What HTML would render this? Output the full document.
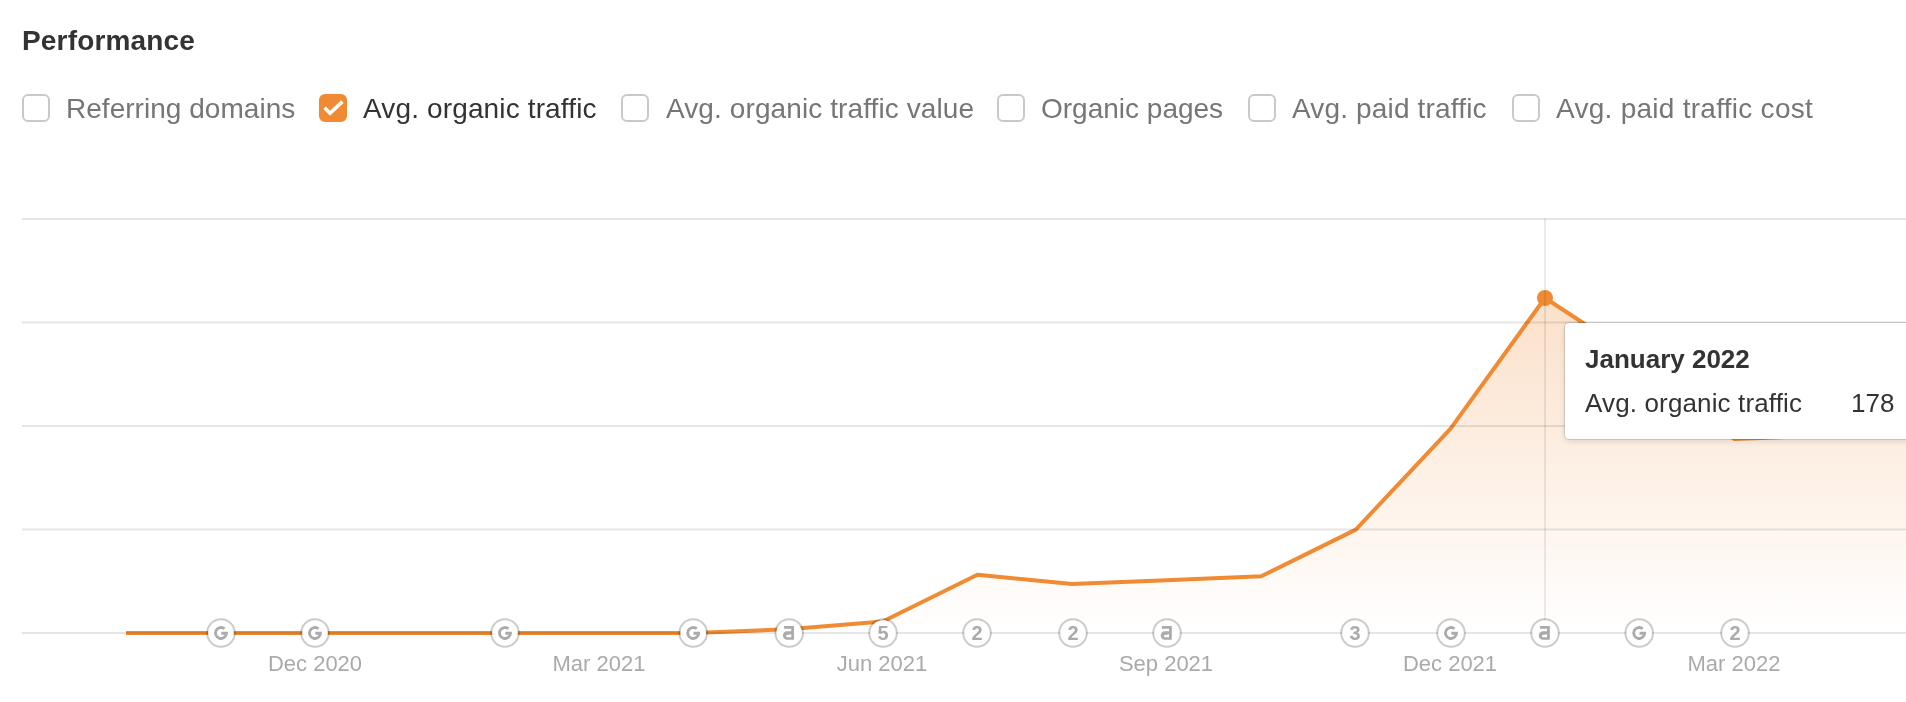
<!DOCTYPE html>
<html>
<head>
<meta charset="utf-8">
<title>Performance</title>
<style>
  html, body { margin: 0; padding: 0; background: #ffffff; }
  body {
    width: 1906px; height: 702px; position: relative; overflow: hidden;
    font-family: "Liberation Sans", sans-serif;
    -webkit-font-smoothing: antialiased;
  }
  .abs { position: absolute; white-space: nowrap; }
  #title, .lbl, .xl, #tip { will-change: transform; }
  #title { letter-spacing: 0.17px; left: 22.2px; top: 25px; font-size: 28px; line-height: 32px; font-weight: bold; color: #333333; }
  .cb { position: absolute; top: 94px; width: 24px; height: 24px; border: 2px solid #c9c9c9; border-radius: 6px; background: #fff; }
  .cb.on { border-color: #f08a33; background: #f08a33; }
  .lbl { position: absolute; top: 93px; font-size: 28px; line-height: 32px; color: #767676; white-space: nowrap; }
  .lbl.on { color: #333333; }
  .xl { position: absolute; top: 651px; width: 200px; margin-left: -100px; text-align: center; font-size: 22px; line-height: 26px; color: #aaaaaa; white-space: nowrap; }
  #tip { position: absolute; left: 1565px; top: 323px; width: 400px; height: 116px; background: #fff; border-radius: 4px;
         box-shadow: 0 0 0 1px rgba(0,0,0,0.085), 0 0 2px rgba(0,0,0,0.12), 0 2px 6px rgba(0,0,0,0.13); }
  #tip .h { position: absolute; left: 20px; top: 21px; font-size: 26px; line-height: 30px; font-weight: bold; color: #333333; white-space: nowrap; }
  #tip .k { letter-spacing:0.14px; position: absolute; left: 20px; top: 65px; font-size: 26px; line-height: 30px; color: #333333; white-space: nowrap; }
  #tip .v { position: absolute; left: 286px; top: 65px; font-size: 26px; line-height: 30px; color: #333333; white-space: nowrap; }
</style>
</head>
<body>

<div id="title" class="abs">Performance</div>

<!-- checkbox row -->
<div class="cb" style="left:22px"></div>
<div class="lbl" id="l1" style="left:66px;letter-spacing:0.03px">Referring domains</div>

<div class="cb on" style="left:319px"></div>
<svg class="abs" style="left:319px;top:94px" width="28" height="28" viewBox="0 0 28 28">
  <path d="M5.6 13.8 L11 19.2 L23.4 7.6" fill="none" stroke="#ffffff" stroke-width="3.6"/>
</svg>
<div class="lbl on" id="l2" style="left:363px;letter-spacing:0.14px">Avg. organic traffic</div>

<div class="cb" style="left:621px"></div>
<div class="lbl" id="l3" style="left:665.5px;letter-spacing:0.1px">Avg. organic traffic value</div>

<div class="cb" style="left:997px"></div>
<div class="lbl" id="l4" style="left:1041px">Organic pages</div>

<div class="cb" style="left:1248px"></div>
<div class="lbl" id="l5" style="left:1292px;letter-spacing:0.16px">Avg. paid traffic</div>

<div class="cb" style="left:1512px"></div>
<div class="lbl" id="l6" style="left:1556px;letter-spacing:0.27px">Avg. paid traffic cost</div>

<!-- chart -->
<svg class="abs" id="chart" style="left:0;top:0" width="1906" height="702" viewBox="0 0 1906 702">
  <defs>
    <linearGradient id="fillg" gradientUnits="userSpaceOnUse" x1="0" y1="298" x2="0" y2="633">
      <stop offset="0" stop-color="#f08a33" stop-opacity="0.26"/>
      <stop offset="1" stop-color="#f08a33" stop-opacity="0"/>
    </linearGradient>
    <g id="mk">
      <circle cx="0" cy="0" r="12.9" fill="#ffffff"/><circle cx="0" cy="0" r="13.8" fill="none" stroke="rgba(0,0,0,0.2)" stroke-width="2"/>
    </g>
    <g id="icG">
      <path d="M3.54 -4.21 A5.5 5.5 0 1 0 5.5 0.25 H0.3" fill="none" stroke="#ababab" stroke-width="2.8"/>
    </g>
    <g id="icA">
      <path fill-rule="evenodd" fill="#ababab" d="M-5.1 -6.9 H4.8 V6.8 H-2.2 A4.1 4.3 0 0 1 -2.2 -1.8 H2 V-4.2 H-5.1 Z M2 1.3 L-2 1.9 A1.15 1.15 0 0 0 -2 4.2 H2 Z"/>
    </g>
  </defs>


  <!-- area fill -->
  <path fill="url(#fillg)" d="M126.0 633 L220.6 633 L315.2 633 L409.8 633 L504.4 633 L599.0 633 L693.6 633 L788.2 629.2 L882.8 621.5 L977.4 574.7 L1072.0 584 L1166.6 580.2 L1261.2 576.3 L1355.8 529.6 L1450.4 428.8 L1545.0 298 L1639.6 359.8 L1734.2 439 L1828.8 435.4 L1923.4 431.8 L1923.4 633 Z"/>
  <!-- line -->
  <path fill="none" stroke="#f08a33" stroke-width="4" stroke-linejoin="round" d="M126.0 633 L220.6 633 L315.2 633 L409.8 633 L504.4 633 L599.0 633 L693.6 633 L788.2 629.2 L882.8 621.5 L977.4 574.7 L1072.0 584 L1166.6 580.2 L1261.2 576.3 L1355.8 529.6 L1450.4 428.8 L1545.0 298 L1639.6 359.8 L1734.2 439 L1828.8 435.4 L1923.4 431.8"/>
  <!-- gridlines -->
  <g stroke="rgba(0,0,0,0.1)" stroke-width="2">
    <line x1="22" y1="219" x2="1906" y2="219"/>
    <line x1="22" y1="322.5" x2="1906" y2="322.5"/>
    <line x1="22" y1="426" x2="1906" y2="426"/>
    <line x1="22" y1="529.5" x2="1906" y2="529.5"/>
    <line x1="22" y1="633" x2="1906" y2="633"/>
  </g>
  <circle cx="1545" cy="298" r="8" fill="#f08a33"/>
  <!-- cursor line -->
  <line x1="1545" y1="218" x2="1545" y2="633" stroke="rgba(0,0,0,0.08)" stroke-width="2"/>

  <!-- markers -->
  <g>
    <use href="#mk" x="221" y="633"/><use href="#icG" x="221" y="633"/>
    <use href="#mk" x="315" y="633"/><use href="#icG" x="315" y="633"/>
    <use href="#mk" x="505" y="633"/><use href="#icG" x="505" y="633"/>
    <use href="#mk" x="693.2" y="633"/><use href="#icG" x="693.2" y="633"/>
    <use href="#mk" x="789.2" y="633"/><use href="#icA" x="789.2" y="633"/>
    <use href="#mk" x="883" y="633"/>
    <use href="#mk" x="977" y="633"/>
    <use href="#mk" x="1073" y="633"/>
    <use href="#mk" x="1167" y="633"/><use href="#icA" x="1167" y="633"/>
    <use href="#mk" x="1355" y="633"/>
    <use href="#mk" x="1451" y="633"/><use href="#icG" x="1451" y="633"/>
    <use href="#mk" x="1545" y="633"/><use href="#icA" x="1545" y="633"/>
    <use href="#mk" x="1639.2" y="633"/><use href="#icG" x="1639.2" y="633"/>
    <use href="#mk" x="1735" y="633"/>
  </g>
  <g font-family="Liberation Sans, sans-serif" font-weight="bold" font-size="20" fill="#ababab" text-anchor="middle">
    <text x="883.1" y="640">5</text>
    <text x="977.1" y="640">2</text>
    <text x="1073.1" y="640">2</text>
    <text x="1355.1" y="640">3</text>
    <text x="1735.1" y="640">2</text>
  </g>
</svg>

<!-- x labels -->
<div class="xl" style="left:315px">Dec 2020</div>
<div class="xl" style="left:599px">Mar 2021</div>
<div class="xl" style="left:882px">Jun 2021</div>
<div class="xl" style="left:1166px">Sep 2021</div>
<div class="xl" style="left:1450px">Dec 2021</div>
<div class="xl" style="left:1734px">Mar 2022</div>

<!-- tooltip -->
<div id="tip">
  <div class="h">January 2022</div>
  <div class="k">Avg. organic traffic</div>
  <div class="v">178</div>
</div>

</body>
</html>
